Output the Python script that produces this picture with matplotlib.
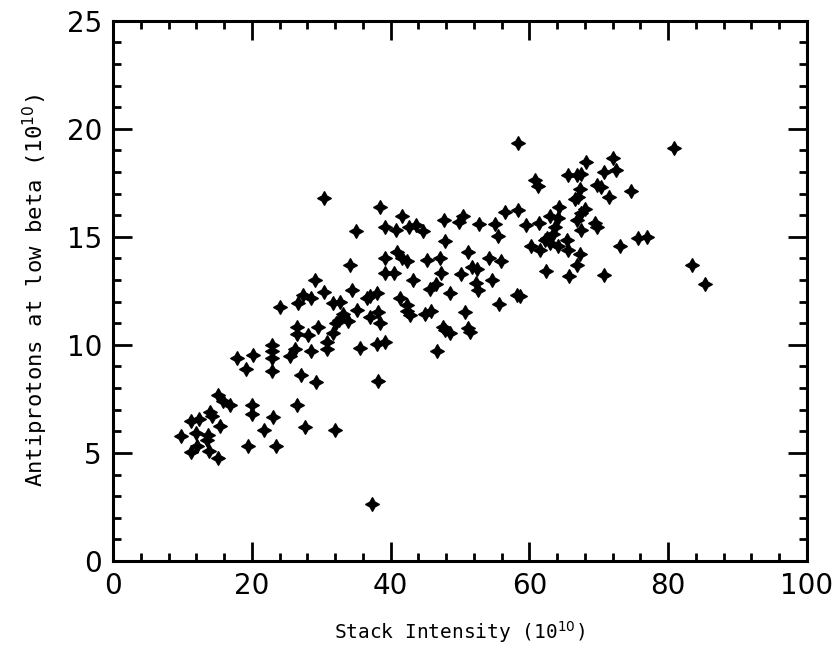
import matplotlib
matplotlib.use("Agg")
from matplotlib import pyplot as plt
from matplotlib.ticker import MultipleLocator

# stack intensity (1e10) and antiprotons at low beta (1e10)
stack = [
    9.8, 11.3, 12.4, 14.0, 14.3, 12.0, 13.7, 13.5, 15.4, 11.3, 12.1, 13.9, 15.2,
    15.2, 15.9, 16.8, 17.9, 19.2, 20.2, 20.1, 20.0, 19.4,
    23.1, 21.8, 23.5, 22.9, 22.9, 22.9, 22.9, 26.5, 27.7, 27.1, 29.2, 32.0, 25.5,
    26.3, 26.5, 26.5, 28.1, 28.6, 29.6, 30.8, 30.8, 31.7, 32.2, 33.9, 35.6, 38.2,
    38.0, 39.2, 38.5, 37.3, 46.7, 47.8, 48.5, 51.4,
    24.1, 26.7, 27.4, 28.6, 29.1, 30.4, 31.7, 32.7, 33.1, 32.6, 34.4, 35.2, 36.6,
    37.0, 38.0, 38.2, 37.0, 34.1, 39.2, 40.9, 41.7, 42.3, 39.2, 40.5, 43.3, 45.2,
    47.1, 47.2, 51.2, 51.7, 52.4, 50.2, 54.2, 55.9, 52.3, 52.6, 54.6, 58.2, 58.7,
    55.7, 50.7, 48.6, 45.7, 46.6, 45.0, 45.9, 42.4, 41.3, 42.3, 47.6, 51.2, 42.8,
    30.4, 38.5, 41.7, 35.0, 39.2, 40.8, 42.7, 43.7, 44.7, 47.7, 49.9, 50.5, 52.8,
    55.0, 56.5, 58.3, 47.8, 55.5, 58.4, 80.8, 60.8, 61.3, 65.6, 66.8, 67.5, 68.2,
    72.1, 72.5, 70.7, 69.8, 70.4, 71.5, 74.6, 67.3, 67.0, 66.6, 64.3, 68.0, 67.5,
    63.0, 64.2, 66.8, 69.5, 69.7, 67.5, 61.4, 59.5, 63.7, 63.4, 62.5, 60.3, 61.5,
    62.2, 63.0, 64.2, 65.5, 65.6, 67.3, 66.8, 73.0, 75.7, 76.9, 62.4, 65.7, 70.8,
    83.5, 85.3,
]
pbars = [
    5.8, 6.5, 6.55, 6.9, 6.7, 5.9, 5.85, 5.6, 6.25, 5.05, 5.3, 5.1, 4.75,
    7.7, 7.4, 7.2, 9.4, 8.9, 9.55, 7.2, 6.8, 5.3,
    6.65, 6.05, 5.3, 10.0, 9.7, 9.4, 8.8, 7.2, 6.2, 8.6, 8.3, 6.05, 9.5,
    9.8, 10.5, 10.85, 10.45, 9.7, 10.85, 9.8, 10.15, 10.55, 11.0, 11.1, 9.85, 8.35,
    10.05, 10.15, 11.0, 2.65, 9.7, 10.7, 10.55, 10.6,
    11.75, 11.95, 12.3, 12.15, 13.0, 12.45, 11.95, 12.0, 11.45, 11.15, 12.55, 11.6, 12.15,
    12.25, 12.4, 11.5, 11.3, 13.7, 14.0, 14.3, 14.0, 13.9, 13.35, 13.35, 13.0, 13.95,
    14.0, 13.35, 14.3, 13.6, 13.5, 13.3, 14.0, 13.9, 12.85, 12.55, 13.0, 12.3, 12.25,
    11.9, 11.5, 12.4, 12.6, 12.8, 11.45, 11.55, 11.55, 12.15, 11.85, 10.85, 10.8, 11.4,
    16.8, 16.4, 15.95, 15.25, 15.45, 15.3, 15.45, 15.55, 15.25, 15.8, 15.7, 15.95, 15.6,
    15.6, 16.15, 16.25, 14.8, 15.05, 19.35, 19.1, 17.65, 17.35, 17.85, 17.85, 17.9, 18.45,
    18.65, 18.1, 18.0, 17.4, 17.3, 16.85, 17.1, 17.2, 16.85, 16.75, 16.4, 16.3, 16.1,
    15.95, 15.85, 15.8, 15.65, 15.45, 15.3, 15.65, 15.55, 15.45, 15.15, 14.95, 14.6, 14.4,
    14.85, 14.7, 14.6, 14.85, 14.4, 14.2, 13.7, 14.6, 14.95, 15.0, 13.4, 13.2, 13.25,
    13.7, 12.8,
]

fig = plt.figure(figsize=(8.37, 6.5), dpi=100)
ax = fig.add_axes([0.135, 0.137, 0.829, 0.831])

ax.scatter(stack, pbars, marker=(4, 1, 0), s=90, c="black",
           edgecolors="black", linewidths=1.2)

ax.set_xlim(0, 100)
ax.set_ylim(0, 25)
ax.xaxis.set_major_locator(MultipleLocator(20))
ax.xaxis.set_minor_locator(MultipleLocator(4))
ax.yaxis.set_major_locator(MultipleLocator(5))
ax.yaxis.set_minor_locator(MultipleLocator(1))
ax.tick_params(which="both", direction="in", top=True, right=True, width=2)
ax.tick_params(which="major", length=14, labelsize=20, pad=8)
ax.tick_params(which="minor", length=6)
for s in ax.spines.values():
    s.set_linewidth(2.2)

ax.set_xlabel("Stack Intensity (10$^{10}$)", fontsize=14, family="DejaVu Sans Mono",
              labelpad=14)
ax.set_ylabel("Antiprotons at low beta (10$^{10}$)", fontsize=16,
              family="DejaVu Sans Mono", labelpad=12)

fig.savefig("out.png", dpi=100)
